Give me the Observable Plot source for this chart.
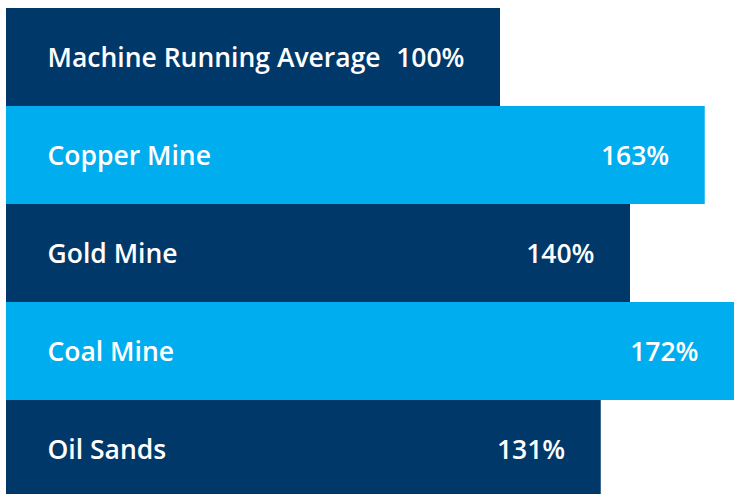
<!DOCTYPE html>
<html>
<head>
<meta charset="utf-8">
<script src="https://cdn.jsdelivr.net/npm/d3@7"></script>
<script src="https://cdn.jsdelivr.net/npm/@observablehq/plot@0.6"></script>
<style>
  html, body { margin: 0; padding: 0; background: #fff; overflow: hidden; }
  #chart svg { display: block; }
</style>
</head>
<body>
<div id="chart"></div>
<script>
const categories = ["Machine Running Average", "Copper Mine", "Gold Mine", "Coal Mine", "Oil Sands"];
const values = [100, 163, 140, 172, 131];
const labels = ["100%", "163%", "140%", "172%", "131%"];
const colors = ["#00386A", "#00AEEF", "#00386A", "#00AEEF", "#00386A"];
const baseline = -52;

const data = categories.map((c, i) => ({ category: c, value: values[i], label: labels[i], color: colors[i] }));

const chart = Plot.plot({
  width: 734,
  height: 498,
  marginLeft: 6,
  marginRight: 0,
  marginTop: 8,
  marginBottom: 0,
  style: { fontFamily: "'Open Sans', sans-serif", background: "#fff" },
  x: { domain: [baseline, 172], axis: null },
  y: { domain: categories, axis: null, padding: 0 },
  marks: [
    Plot.barX(data, { x1: baseline, x2: "value", y: "category", fill: "color", insetTop: 0, insetBottom: 0 }),
    Plot.text(data, { x: baseline, y: "category", text: "category", textAnchor: "start", dx: 41, dy: 1, fill: "#fff", fontSize: 26.5, fontWeight: 600 }),
    Plot.text(data, { x: "value", y: "category", text: "label", textAnchor: "end", dx: -36, dy: 1, fill: "#fff", fontSize: 26.5, fontWeight: 600 })
  ]
});
document.getElementById("chart").appendChild(chart);
</script>
</body>
</html>
